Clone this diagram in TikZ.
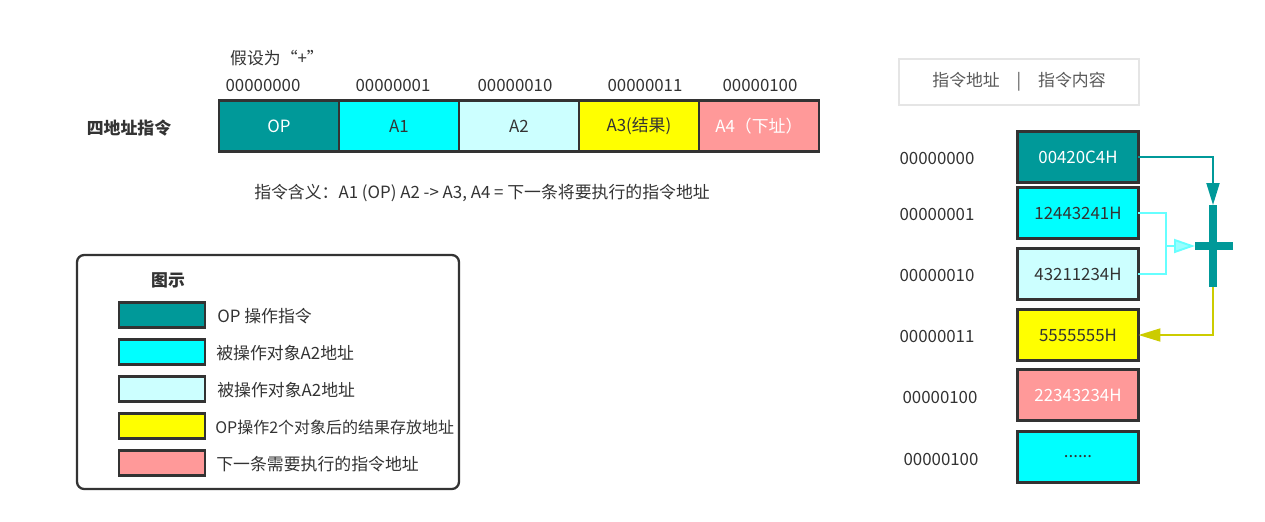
\documentclass[tikz,border=0pt]{standalone}
\usepackage{fontspec}
\setmainfont{Noto Sans CJK SC}
\usetikzlibrary{positioning,arrows.meta}
\definecolor{opc}{HTML}{009999}
\definecolor{aonec}{HTML}{00FFFF}
\definecolor{atwoc}{HTML}{CCFFFF}
\definecolor{athreec}{HTML}{FFFF00}
\definecolor{afourc}{HTML}{FF9999}
\definecolor{edgec}{HTML}{333333}
\definecolor{txtc}{HTML}{333333}
\definecolor{flowc}{HTML}{66FFFF}
\definecolor{flowtipc}{HTML}{99FFFF}
\definecolor{resc}{HTML}{CCCC00}
\tikzset{
  every node/.style={font=\fontsize{9.6}{11.5}\selectfont},
  cell/.style={draw=edgec,line width=1.3pt,minimum width=2.4cm,minimum height=1.02cm,inner sep=0pt,outer sep=0pt,text=txtc},
  mem/.style={cell,minimum width=2.42cm},
  swatch/.style={draw=edgec,line width=1.3pt,minimum width=1.72cm,minimum height=0.5cm,inner sep=0pt},
  lbl/.style={text=txtc,inner sep=0pt},
  tip/.style={-{Triangle[length=0.44cm,width=0.26cm]}},
}
\begin{document}
\begin{tikzpicture}[x=0.02cm,y=-0.02cm]
\useasboundingbox (0,0) rectangle (1265,521);
% instruction format
\node[lbl,font=\fontsize{9.6}{11.5}\selectfont\bfseries] (title) at (129,128) {四地址指令};
\node[cell,fill=opc,text=white] (op) at (279,126) {OP};
\node[cell,fill=aonec,right=0pt of op] (aone) {A1};
\node[cell,fill=atwoc,right=0pt of aone] (atwo) {A2};
\node[cell,fill=athreec,right=0pt of atwo] (athree) {A3(结果)};
\node[cell,fill=afourc,text=white,right=0pt of athree] (afour) {A4（下址）};
\node[lbl] (adr0) at (263,85) {00000000};
\node[lbl] (adr1) at (393,85) {00000001};
\node[lbl] (adr2) at (515,85) {00000010};
\node[lbl] (adr3) at (645,85) {00000011};
\node[lbl] (adr4) at (760,85) {00000100};
\node[lbl] (assume) at (277,58) {假设为“+”};
\node[lbl] (meaning) at (482,193) {指令含义：A1 (OP) A2 -> A3, A4 = 下一条将要执行的指令地址};
% legend
\node[draw=edgec,line width=1.3pt,rounded corners=4pt,minimum width=7.64cm,minimum height=4.68cm] (legend) at (268,372) {};
\node[lbl,font=\fontsize{9.6}{11.5}\selectfont\bfseries] (legtitle) at (168,280) {图示};
\node[swatch,fill=opc] (sw0) at (162,315) {};
\node[swatch,fill=aonec] (sw1) at (162,352) {};
\node[swatch,fill=atwoc] (sw2) at (162,389) {};
\node[swatch,fill=athreec] (sw3) at (162,426) {};
\node[swatch,fill=afourc] (sw4) at (162,463) {};
\node[lbl,anchor=west] (lt0) at (217,316) {OP 操作指令};
\node[lbl,anchor=west] (lt1) at (216,353) {被操作对象A2地址};
\node[lbl,anchor=west] (lt2) at (217,390) {被操作对象A2地址};
\node[lbl,anchor=west,font=\fontsize{9.1}{11}\selectfont] (lt3) at (215,427) {OP操作2个对象后的结果存放地址};
\node[lbl,anchor=west] (lt4) at (216,464) {下一条需要执行的指令地址};
% memory
\node[draw=gray!20,line width=1.5pt,minimum width=4.8cm,minimum height=0.92cm,text=black!65] (head) at (1019,82) {指令地址\quad|\quad 指令内容};
\node[mem,fill=opc,text=white] (m0) at (1078,157) {00420C4H};
\node[mem,fill=aonec] (m1) at (1078,213) {12443241H};
\node[mem,fill=atwoc] (m2) at (1078,274) {43211234H};
\node[mem,fill=athreec] (m3) at (1078,335) {5555555H};
\node[mem,fill=afourc,text=white] (m4) at (1078,395) {22343234H};
\node[mem,fill=aonec] (m5) at (1078,457) {......};
\node[lbl] (ma0) at (937,158) {00000000};
\node[lbl] (ma1) at (937,214) {00000001};
\node[lbl] (ma2) at (937,275) {00000010};
\node[lbl] (ma3) at (937,336) {00000011};
\node[lbl] (ma4) at (940,397) {00000100};
\node[lbl] (ma5) at (941,459) {00000100};
% adder
\coordinate (plusT) at (1213,205);
\coordinate (plusB) at (1213,287);
\coordinate (plusL) at (1195,246);
\coordinate (plusR) at (1233,246);
\coordinate (join) at (1166,246);
\draw[opc,line width=4.5pt] (plusT) -- (plusB);
\draw[opc,line width=4.5pt] (plusL) -- (plusR);
\draw[opc,line width=1.1pt,tip] (m0.east) -| (plusT);
\draw[flowc,line width=1.1pt] (m1.east) -| (join);
\draw[flowc,line width=1.1pt] (m2.east) -| (join);
\draw[flowc,line width=1.1pt,-{Triangle[length=0.42cm,width=0.28cm,fill=flowtipc]}] (join) -- (plusL);
\draw[resc,line width=1.1pt,tip] (plusB) |- (m3.east);
\end{tikzpicture}
\end{document}
